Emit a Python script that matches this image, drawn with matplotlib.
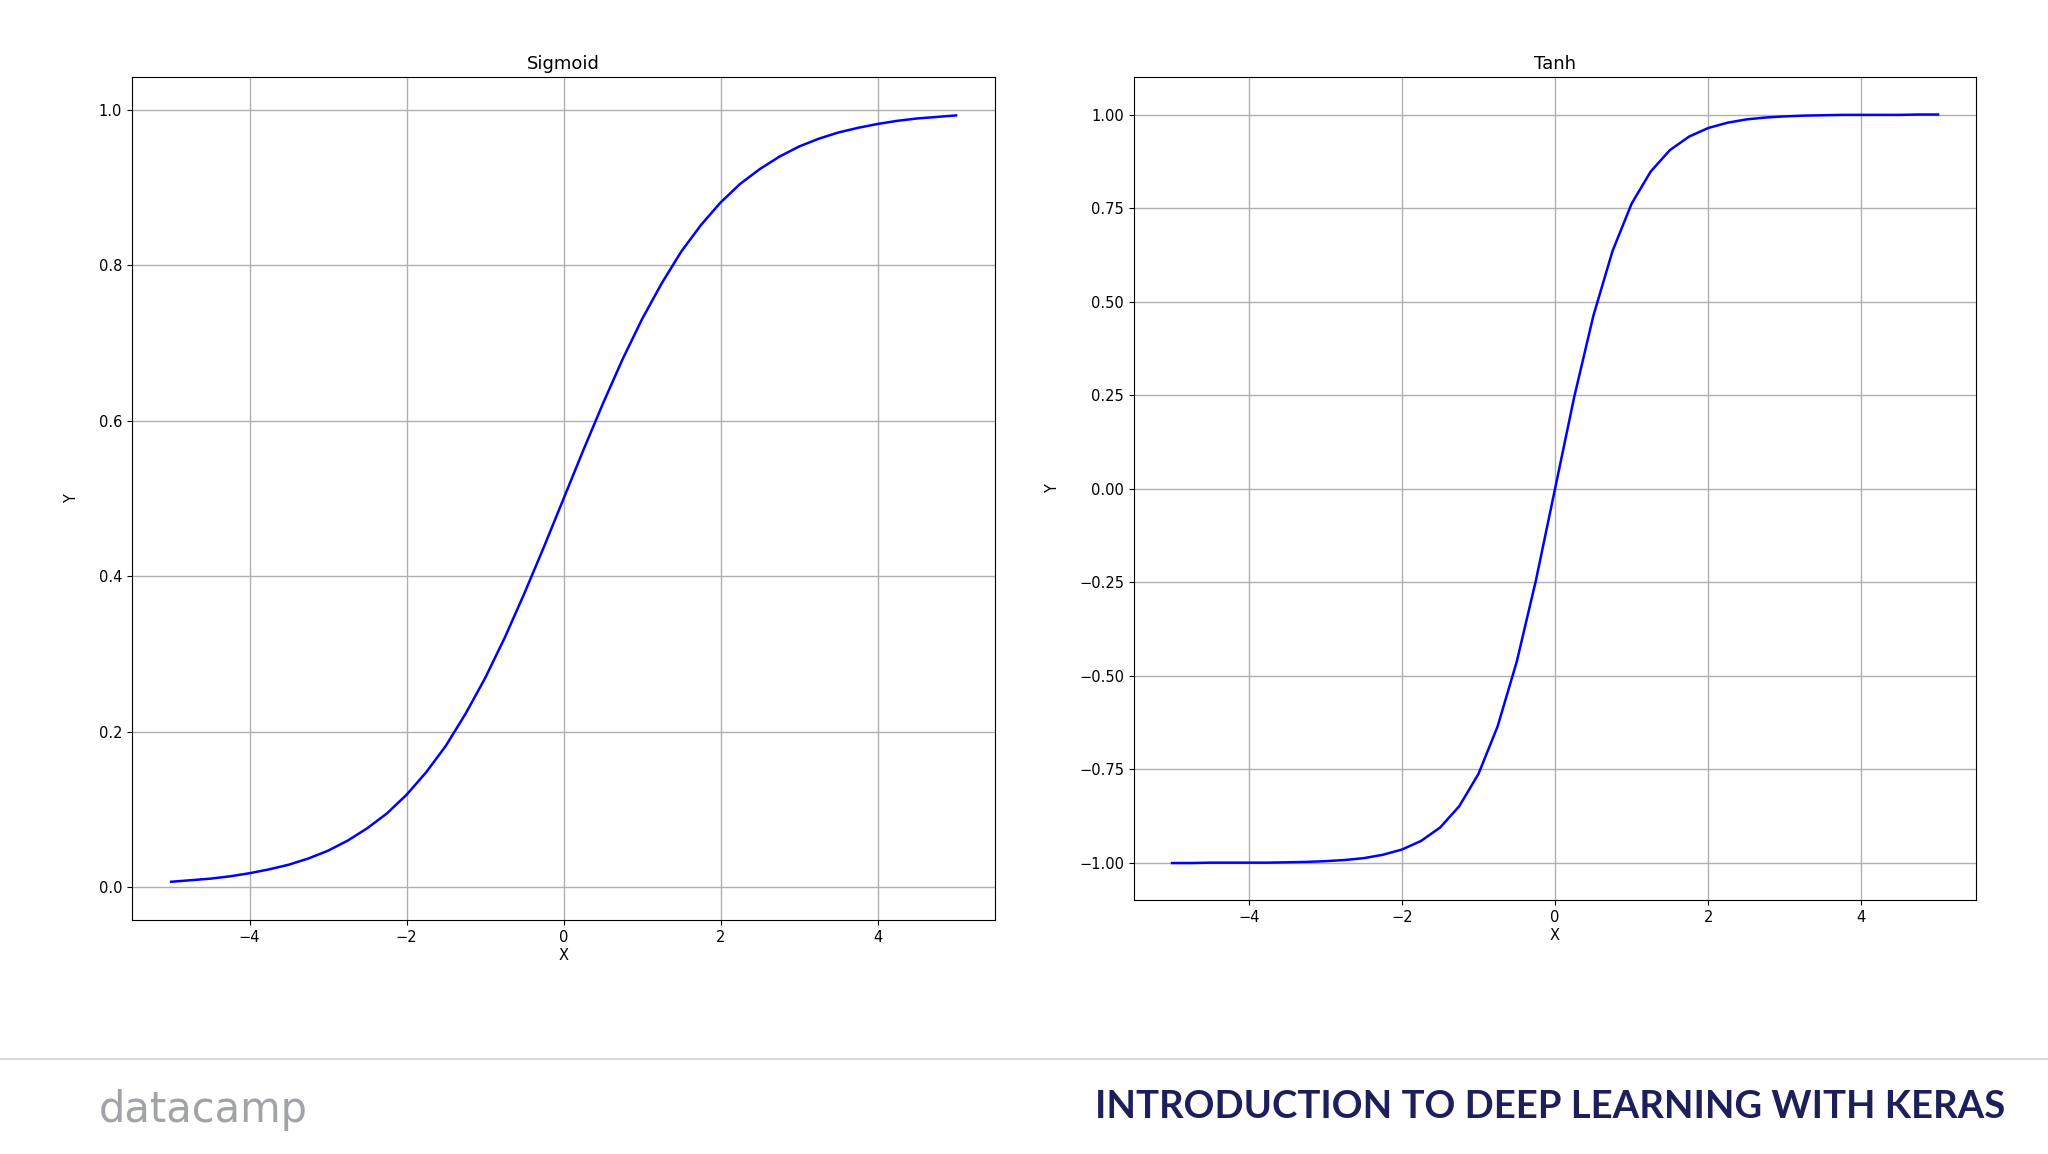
import matplotlib.pyplot as plt
from matplotlib.lines import Line2D

# values
x_vals = [-5.0, -4.75, -4.5, -4.25, -4.0, -3.75, -3.5, -3.25, -3.0, -2.75, -2.5, -2.25,
          -2.0, -1.75, -1.5, -1.25, -1.0, -0.75, -0.5, -0.25, 0.0,
          0.25, 0.5, 0.75, 1.0, 1.25, 1.5, 1.75, 2.0, 2.25, 2.5, 2.75,
          3.0, 3.25, 3.5, 3.75, 4.0, 4.25, 4.5, 4.75, 5.0]
sigmoid_vals = [0.007, 0.009, 0.011, 0.014, 0.018, 0.023, 0.029, 0.037, 0.047, 0.060, 0.076, 0.095,
                0.119, 0.148, 0.182, 0.223, 0.269, 0.321, 0.378, 0.438, 0.500,
                0.562, 0.622, 0.679, 0.731, 0.777, 0.818, 0.852, 0.881, 0.905, 0.924, 0.940,
                0.953, 0.963, 0.971, 0.977, 0.982, 0.986, 0.989, 0.991, 0.993]
tanh_vals = [-1.000, -1.000, -0.999, -0.999, -0.999, -0.999, -0.998, -0.997, -0.995, -0.992, -0.987, -0.978,
             -0.964, -0.941, -0.905, -0.848, -0.762, -0.635, -0.462, -0.245, 0.000,
             0.245, 0.462, 0.635, 0.762, 0.848, 0.905, 0.941, 0.964, 0.978, 0.987, 0.992,
             0.995, 0.997, 0.998, 0.999, 0.999, 0.999, 0.999, 1.000, 1.000]

fig = plt.figure(figsize=(20.48, 11.54), dpi=100)
fig.patch.set_facecolor('white')

ax1 = fig.add_axes([0.0644, 0.2027, 0.4216, 0.7305])
ax2 = fig.add_axes([0.5536, 0.2197, 0.4114, 0.7135])

for ax, y, title in [(ax1, sigmoid_vals, 'Sigmoid'), (ax2, tanh_vals, 'Tanh')]:
    ax.plot(x_vals, y, color='blue', linewidth=1.8)
    ax.set_title(title, fontsize=13)
    ax.set_xlabel('X', fontsize=10.5, labelpad=2)
    ax.set_ylabel('Y', fontsize=10.5, labelpad=14)
    ax.grid(True, color='#b0b0b0', linewidth=1)
    ax.tick_params(labelsize=10.5)
    ax.set_xticks([-4, -2, 0, 2, 4])

ax1.set_yticks([0.0, 0.2, 0.4, 0.6, 0.8, 1.0])
ax2.set_yticks([-1.0, -0.75, -0.5, -0.25, 0.0, 0.25, 0.5, 0.75, 1.0])
ax2.set_yticklabels(['\u22121.00', '\u22120.75', '\u22120.50', '\u22120.25', '0.00',
                     '0.25', '0.50', '0.75', '1.00'])

# footer
fig.add_artist(Line2D([0, 1], [0.0827, 0.0827], color='#d9d9d9', linewidth=1.5))
fig.text(0.048, 0.038, 'datacamp', fontsize=30, color='#a0a3a8', va='center', ha='left')
fig.text(0.979, 0.041, 'INTRODUCTION TO DEEP LEARNING WITH KERAS', fontsize=27.5,
         fontweight='bold', family='Lato', color='#1c1f5a', va='center', ha='right')

fig.savefig('out.png', dpi=100)
